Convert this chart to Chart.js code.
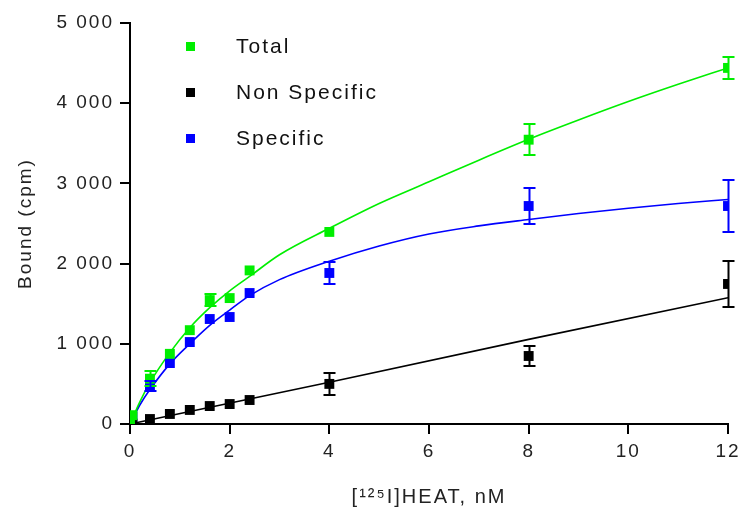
<!DOCTYPE html>
<html><head><meta charset="utf-8">
<script src="https://cdn.jsdelivr.net/npm/chart.js@4/dist/chart.umd.min.js"></script>
<style>html,body{margin:0;padding:0;background:#fff}#wrap{width:743px;height:517px;position:relative}</style>
</head><body><div id="wrap"><canvas id="c"></canvas></div>
<script>
// ---- data ----
const xTicks = [0, 2, 4, 6, 8, 10, 12];
const yTicks = [0, 1000, 2000, 3000, 4000, 5000];
const seriesNames = ['Total', 'Non Specific', 'Specific'];
const seriesColors = ['#00ee00', '#000000', '#0000ff'];

const concX      = [0, 0.05, 0.4, 0.8, 1.2, 1.6, 2.0, 2.4, 4, 8, 12];
const totalY     = [0, 110, 565, 875, 1170, 1545, 1570, 1915, 2395, 3545, 4440];
const totalErr   = [0, 0, 90, 0, 0, 70, 0, 0, 0, 190, 140];
const nonSpecY   = [0, 5, 62, 125, 175, 224, 249, 299, 500, 848, 1746];
const nonSpecErr = [0, 0, 0, 0, 0, 0, 0, 0, 140, 130, 290];
const specY      = [0, 90, 470, 760, 1022, 1309, 1334, 1633, 1883, 2718, 2718];
const specErr    = [0, 0, 60, 0, 0, 0, 0, 0, 140, 220, 320];

// fitted curves
const fitX       = [0, 0.2, 0.4, 0.8, 1.2, 1.6, 2, 2.4, 3, 4, 5, 6, 7, 8, 9, 10, 11, 12];
const totalFit   = [0, 280, 515, 890, 1200, 1450, 1660, 1840, 2110, 2440, 2750, 3020, 3290, 3550, 3790, 4020, 4235, 4440];
const specFit    = [0, 240, 430, 750, 1000, 1230, 1420, 1600, 1800, 2030, 2220, 2370, 2470, 2550, 2625, 2690, 2750, 2800];
const nonSpecFitX = [0, 4, 8, 12];
const nonSpecFit  = [0, 520, 1055, 1575];

const FONT = "'Liberation Sans', Arial, sans-serif";
const pts = (xs, ys) => xs.map((x, i) => ({x: x, y: ys[i]}));

const spacing = {
  id: 'spacing',
  beforeUpdate(c) { c.ctx.letterSpacing = '2px'; },
  beforeLayout(c) { c.ctx.letterSpacing = '2px'; },
  beforeDraw(c) { c.ctx.letterSpacing = '2px'; }
};

const errorBars = {
  id: 'errorBars',
  afterDatasetsDraw(c) {
    const ctx = c.ctx, xs = c.scales.x, ys = c.scales.y;
    c.data.datasets.forEach((ds) => {
      if (!ds.errors) return;
      ctx.save();
      ctx.strokeStyle = ds.borderColor;
      ctx.lineWidth = 2;
      ds.data.forEach((p, i) => {
        const e = ds.errors[i];
        if (!e) return;
        const px = Math.round(xs.getPixelForValue(p.x)) + 0.5;
        const y1 = Math.round(ys.getPixelForValue(p.y + e));
        const y2 = Math.round(ys.getPixelForValue(p.y - e));
        ctx.beginPath();
        ctx.moveTo(px, y1); ctx.lineTo(px, y2);
        ctx.moveTo(px - 6, y1); ctx.lineTo(px + 6, y1);
        ctx.moveTo(px - 6, y2); ctx.lineTo(px + 6, y2);
        ctx.stroke();
      });
      ctx.restore();
    });
  }
};

const legendBox = {
  id: 'legendBox',
  afterDraw(c) {
    const ctx = c.ctx;
    ctx.save();
    ctx.letterSpacing = '2px';
    ctx.font = '21px ' + FONT;
    ctx.textBaseline = 'middle';
    ctx.textAlign = 'left';
    const x0 = c.chartArea.left + 60, y0 = c.chartArea.top + 23;
    seriesNames.forEach((n, i) => {
      const y = y0 + i * 46;
      ctx.fillStyle = seriesColors[i];
      ctx.fillRect(x0 - 4, y - 4, 9, 9);
      ctx.fillStyle = '#111';
      ctx.fillText(n, x0 + 46, y + 1);
    });
    ctx.restore();
  }
};

const scatterDs = (label, ys, errs, color) => ({
  label: label, data: pts(concX, ys), errors: errs,
  showLine: false, pointStyle: 'rect', pointRadius: 7, pointHoverRadius: 7,
  backgroundColor: color, borderColor: color, borderWidth: 0, order: 0
});
const lineDs = (label, xs, ys, color, tension) => ({
  label: label, data: pts(xs, ys), showLine: true, pointRadius: 0,
  borderColor: color, borderWidth: 1.6, tension: tension,
  cubicInterpolationMode: tension ? 'monotone' : 'default', fill: false, order: 1
});

new Chart(document.getElementById('c'), {
  type: 'scatter',
  data: {
    datasets: [
      scatterDs(seriesNames[0], totalY, totalErr, seriesColors[0]),
      scatterDs(seriesNames[1], nonSpecY, nonSpecErr, seriesColors[1]),
      scatterDs(seriesNames[2], specY, specErr, seriesColors[2]),
      lineDs('Total fit', fitX, totalFit, seriesColors[0], 0.4),
      lineDs('Non Specific fit', nonSpecFitX, nonSpecFit, seriesColors[1], 0),
      lineDs('Specific fit', fitX, specFit, seriesColors[2], 0.4)
    ]
  },
  options: {
    responsive: true, maintainAspectRatio: false, animation: false,
    layout: { padding: { top: 23, right: 15, bottom: 0, left: 0 } },
    plugins: { legend: { display: false }, tooltip: { enabled: false } },
    scales: {
      x: {
        type: 'linear', min: 0, max: 12,
        afterBuildTicks(s) { s.ticks = xTicks.map(v => ({value: v})); },
        afterFit(s) { s.height = 93; s.paddingLeft = 0; s.paddingRight = 0; },
        border: { display: true, color: '#000', width: 2 },
        grid: { display: true, drawOnChartArea: false, drawTicks: true, tickLength: 10, color: '#000', lineWidth: 2 },
        ticks: { color: '#222', font: { family: FONT, size: 19 }, padding: 6, maxRotation: 0 },
        title: { display: true, text: '[\u00B9\u00B2\u2075I]HEAT, nM', color: '#222', font: { family: FONT, size: 20 }, padding: { top: 12, bottom: 8 } }
      },
      y: {
        type: 'linear', min: 0, max: 5000,
        afterBuildTicks(s) { s.ticks = yTicks.map(v => ({value: v})); },
        afterFit(s) { s.width = 130; s.paddingTop = 0; s.paddingBottom = 0; },
        border: { display: true, color: '#000', width: 2 },
        grid: { display: true, drawOnChartArea: false, drawTicks: true, tickLength: 10, color: '#000', lineWidth: 2 },
        ticks: { color: '#222', font: { family: FONT, size: 19 }, padding: 6,
          callback: v => { const s = String(v); return s.length > 3 ? s.slice(0, s.length - 3) + ' ' + s.slice(-3) : s; } },
        title: { display: true, text: 'Bound (cpm)', color: '#222', font: { family: FONT, size: 19 }, padding: { top: 14, bottom: 4 } }
      }
    }
  },
  plugins: [spacing, errorBars, legendBox]
});
</script></body></html>
